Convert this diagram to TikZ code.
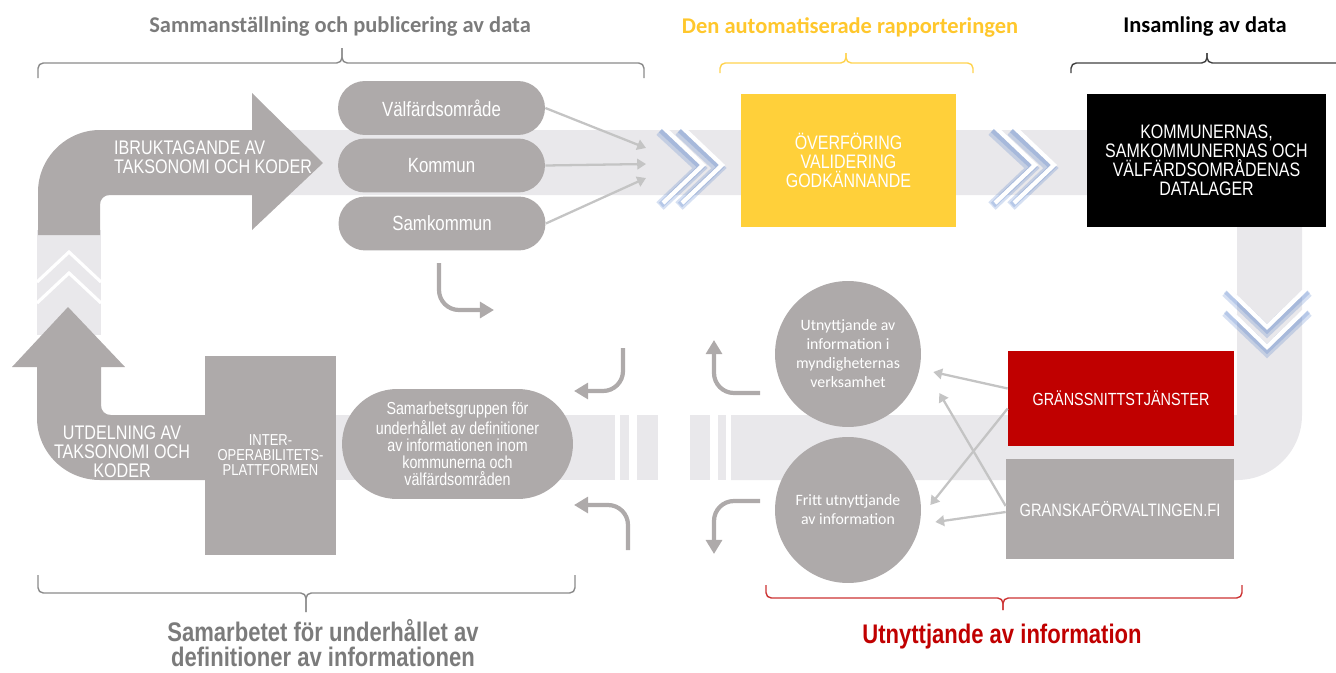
\documentclass[tikz,border=0pt]{standalone}
\usepackage{fontspec}
\setmainfont{Carlito}
\newfontfamily\narrowfont{Liberation Sans}[FakeStretch=0.82]
\usetikzlibrary{arrows.meta}

\definecolor{shapegray}{HTML}{AEAAAA}
\definecolor{bandgray}{HTML}{E9E8EB}
\definecolor{linegray}{HTML}{C4C4C4}
\definecolor{headgray}{HTML}{7B7B7B}
\definecolor{headyellow}{HTML}{FFC72C}
\definecolor{boxyellow}{HTML}{FFD03A}
\definecolor{boxred}{HTML}{C00000}
\definecolor{chevblue}{HTML}{4472C4}
\definecolor{bracegray}{HTML}{8A8A8A}
\definecolor{braceyellow}{HTML}{FFD34F}
\definecolor{bracedark}{HTML}{404040}
\definecolor{bracered}{HTML}{CC3333}

\tikzset{
  band/.style={fill=bandgray},
  bigarrow/.style={fill=shapegray},
  pill/.style={fill=shapegray, rounded corners=0.54cm, minimum width=4.14cm, minimum height=1.08cm,
    text=white, font=\narrowfont\fontsize{11.7}{13}\selectfont},
  block/.style={text=white, align=center, inner sep=2pt, font=\narrowfont\fontsize{11.1}{10.9}\selectfont},
  circ/.style={circle, fill=shapegray, minimum size=2.92cm, inner sep=0pt, text=white, align=center,
    font=\fontsize{9}{10.8}\selectfont},
  armtxt/.style={text=white, align=center, font=\narrowfont\fontsize{11.2}{10.9}\selectfont},
  head/.style={font=\bfseries\fontsize{12.8}{14}\selectfont},
  foot/.style={align=center, inner sep=0pt, font=\narrowfont\bfseries\fontsize{15.3}{14.6}\selectfont},
  brc/.style={line width=0.8pt, rounded corners=3pt},
  thinarr/.style={draw=linegray, line width=1.3pt, -{Triangle[width=6pt,length=5pt]}},
  curvearr/.style={draw=shapegray, line width=2.4pt, rounded corners=0.4cm, -{Triangle[width=9pt,length=8pt]}},
  chevline/.style={draw=white, line width=2.4pt},
  chevglow/.style={draw=chevblue, line width=#1, opacity=0.22},
  upchev/.style={draw=white, line width=1.8pt}
}

\begin{document}
\begin{tikzpicture}[x=0.02cm, y=-0.02cm]
    \useasboundingbox (0,0) rectangle (1336,673);

    % light flow band
    \fill[band] (150,130) -- (1302,130) -- (1302,415) .. controls (1302,451) and (1273,480) .. (1237,480)
        -- (731,480) -- (731,415) -- (1237,415) -- (1237,195) -- (150,195) -- cycle;
    \foreach \a/\b in {330/615, 620/629, 637/658, 690/710, 718/726} {
        \fill[band] (\a,415) rectangle (\b,480);
    }
    \fill[band] (37,230) rectangle (101,335);

    % bent arrows
    \fill[bigarrow] (38,235) -- (38,192) .. controls (38,158) and (66,130) .. (100,130) -- (252,130) -- (252,93)
        -- (323,163) -- (252,230) -- (252,195) -- (110,195) .. controls (104,195) and (100,199) .. (100,205)
        -- (100,235) -- cycle;
    \fill[bigarrow] (12,367) -- (68,307) -- (125,367) -- (101,367) -- (101,405) .. controls (101,411) and (105,415) .. (111,415)
        -- (210,415) -- (210,480) -- (100,480) .. controls (65,480) and (37,452) .. (37,418) -- (37,367) -- cycle;

    % chevrons
    \foreach \cy in {252,273} {
        \draw[upchev] (37,\cy+30) -- (69,\cy) -- (101,\cy+30);
    }
    \foreach \cx in {663,682,995,1014} {
        \draw[chevglow=6pt] (\cx-3,131) -- (\cx+37,168) -- (\cx-3,206);
        \draw[chevglow=3.5pt] (\cx-2,130) -- (\cx+38,167) -- (\cx-2,205);
        \draw[chevline] (\cx,127) -- (\cx+40,165) -- (\cx,203);
    }
    \foreach \cy in {288,308} {
        \draw[chevglow=6pt] (1226,\cy+4) -- (1267,\cy+43) -- (1308,\cy+4);
        \draw[chevglow=3.5pt] (1226,\cy+3) -- (1267,\cy+42) -- (1308,\cy+3);
        \draw[chevline] (1227,\cy) -- (1267,\cy+39) -- (1307,\cy);
    }

    % braces
    \foreach \l/\m/\r/\ya/\yb/\yc/\col in {38/342/644/78/63/48/bracegray, 720/846/973/73/63/53/braceyellow,
        1071/1207/1345/73/63/53/bracedark, 38/306/575/575/593/612/bracegray, 766/1003/1242/585/598/610/bracered} {
        \draw[brc, draw=\col] (\l,\ya) -- (\l,\yb) -- (\m,\yb) -- (\m,\yc);
        \draw[brc, draw=\col] (\m,\yc) -- (\m,\yb) -- (\r,\yb) -- (\r,\ya);
    }

    % headings
    \node[head, text=headgray] (h1) at (340,27) {Sammanställning och publicering av data};
    \node[head, text=headyellow] (h2) at (850,27) {Den automatiserade rapporteringen};
    \node[head] (h3) at (1205,27) {Insamling av data};
    \node[foot, text=headgray] (f1) at (323,643) {Samarbetet för underhållet av\\definitioner av informationen};
    \node[foot, text=boxred] (f2) at (1002,637) {Utnyttjande av information};

    % arrow texts
    \node[armtxt, anchor=west, align=left] (ibr) at (108,157) {IBRUKTAGANDE AV\\TAKSONOMI OCH KODER};
    \node[armtxt] (utd) at (122,452) {UTDELNING AV\\TAKSONOMI OCH\\KODER};

    % pills and boxes
    \node[pill] (vo) at (441.5,108) {Välfärdsområde};
    \node[pill] (kom) at (441.5,165.5) {Kommun};
    \node[pill] (samk) at (442,223.5) {Samkommun};
    \node[block, fill=boxyellow, minimum width=4.3cm, minimum height=2.66cm] (overf) at (848.5,160.5)
        {ÖVERFÖRING\\VALIDERING\\GODKÄNNANDE};
    \node[block, fill=black, minimum width=4.78cm, minimum height=2.66cm] (lager) at (1206.5,160.5)
        {KOMMUNERNAS,\\SAMKOMMUNERNAS OCH\\VÄLFÄRDSOMRÅDENAS\\DATALAGER};
    \node[block, fill=boxred, minimum width=4.52cm, minimum height=1.9cm,
        font=\narrowfont\fontsize{10}{11}\selectfont] (grs) at (1121,398.5) {GRÄNSSNITTSTJÄNSTER};
    \node[block, fill=shapegray, minimum width=4.56cm, minimum height=2cm,
        font=\narrowfont\fontsize{10.2}{11}\selectfont] (gkf) at (1120,509) {GRANSKAFÖRVALTINGEN.FI};
    \node[block, fill=shapegray, minimum width=2.62cm, minimum height=3.98cm,
        font=\narrowfont\fontsize{9}{8.6}\selectfont] (inter) at (270.5,455.5) {INTER-\\OPERABILITETS-\\PLATTFORMEN};
    \node[block, fill=shapegray, rounded corners=1.1cm, minimum width=4.62cm, minimum height=2.2cm,
        font=\narrowfont\fontsize{9.9}{9.7}\selectfont] (samgrp) at (457.5,444)
        {Samarbetsgruppen för\\underhållet av definitioner\\av informationen inom\\kommunerna och\\välfärdsområden};
    \node[circ] (utn) at (848,354) {Utnyttjande av\\information i\\myndigheternas\\verksamhet};
    \node[circ] (fritt) at (848,510) {Fritt utnyttjande\\av information};

    % arrows into the reporting
    \coordinate (m1) at (646,148);
    \coordinate (m2) at (646,164);
    \coordinate (m3) at (646,178);
    \draw[thinarr] (vo.east) -- (m1);
    \draw[thinarr] (kom.east) -- (m2);
    \draw[thinarr] (samk.east) -- (m3);

    % arrows to the use of information
    \draw[thinarr] ([yshift=0.2cm]grs.west) -- ([xshift=0.24cm,yshift=-0.36cm]utn.east);
    \draw[thinarr] ([yshift=-0.2cm]grs.west) -- ([xshift=0.18cm,yshift=0.1cm]fritt.east);
    \draw[thinarr] ([yshift=0.06cm]gkf.west) -- ([xshift=0.36cm,yshift=-0.78cm]utn.east);
    \draw[thinarr] ([yshift=-0.06cm]gkf.west) -- ([xshift=0.28cm,yshift=-0.24cm]fritt.east);

    % small bent arrows
    \coordinate (c1s) at (439,263);  \coordinate (c1e) at (494,310);
    \coordinate (c2s) at (623,348);  \coordinate (c2e) at (574,391);
    \coordinate (c3s) at (628,550);  \coordinate (c3e) at (574,505);
    \coordinate (c4s) at (760,393);  \coordinate (c4e) at (714,340);
    \coordinate (c5s) at (760,501);  \coordinate (c5e) at (714,554);
    \draw[curvearr] (c1s) |- (c1e);
    \draw[curvearr] (c2s) |- (c2e);
    \draw[curvearr] (c3s) |- (c3e);
    \draw[curvearr] (c4s) -| (c4e);
    \draw[curvearr] (c5s) -| (c5e);
\end{tikzpicture}
\end{document}
